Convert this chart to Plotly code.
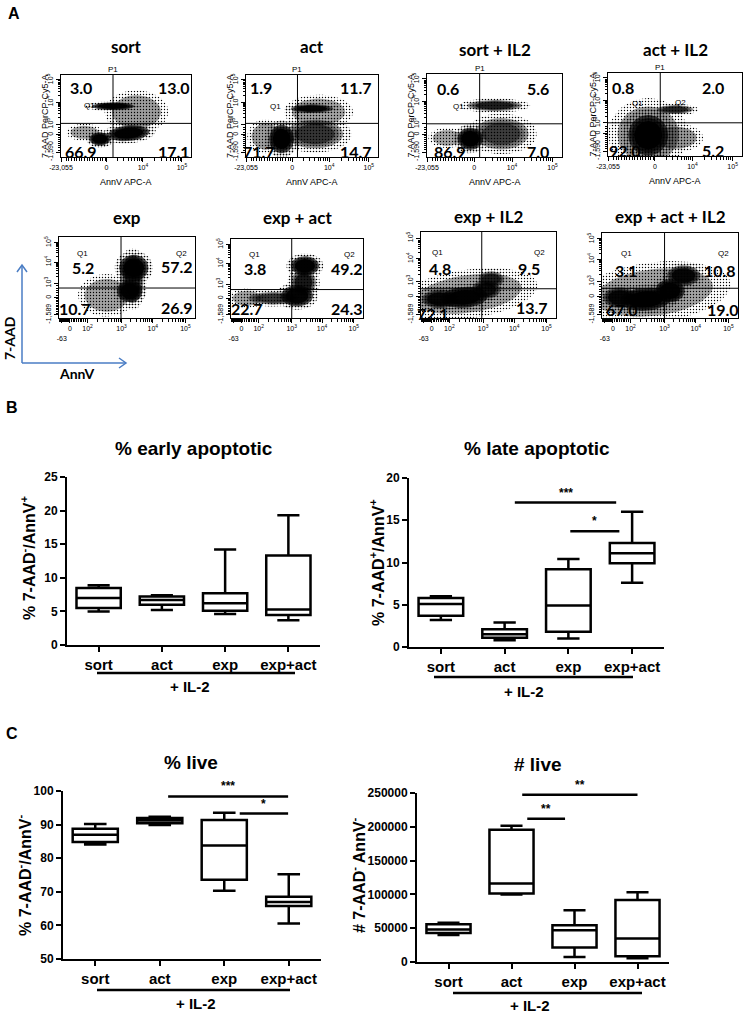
import numpy as np
import plotly.graph_objects as go

W, H = 745, 1013
def fx(p): return p / W
def fy(p): return 1 - p / H

# ---------------- Panel A data (flow cytometry quadrants) ----------------
flow_titles = ["sort", "act", "sort + IL2", "act + IL2",
               "exp", "exp + act", "exp + IL2", "exp + act + IL2"]
q1_pct = [3.0, 1.9, 0.6, 0.8, 5.2, 3.8, 4.8, 3.1]
q2_pct = [13.0, 11.7, 5.6, 2.0, 57.2, 49.2, 9.5, 10.8]
q3_pct = [66.9, 71.7, 86.9, 92.0, 10.7, 22.7, 72.1, 67.0]
q4_pct = [17.1, 14.7, 7.0, 5.2, 26.9, 24.3, 13.7, 19.0]
gate_x = [0.40, 0.39, 0.39, 0.39, 0.456, 0.46, 0.45, 0.46]
gate_y = [0.41, 0.41, 0.40, 0.40, 0.37, 0.36, 0.34, 0.35]

# event populations (display units 0-1): centre, half-width, half-height, tilt, density
pop_cx = [[0.30, 0.52, 0.40, 0.58, 0.18],
          [0.27, 0.50, 0.52, 0.15, 0.55],
          [0.32, 0.50, 0.55, 0.15],
          [0.30, 0.50, 0.50, 0.30],
          [0.55, 0.52, 0.54, 0.35],
          [0.56, 0.50, 0.55, 0.32, 0.12],
          [0.14, 0.32, 0.48, 0.52, 0.35],
          [0.13, 0.32, 0.50, 0.60, 0.38]]
pop_cy = [[0.22, 0.29, 0.62, 0.55, 0.30],
          [0.22, 0.59, 0.28, 0.25, 0.55],
          [0.22, 0.62, 0.28, 0.23],
          [0.25, 0.56, 0.22, 0.26],
          [0.62, 0.33, 0.48, 0.28],
          [0.66, 0.28, 0.45, 0.25, 0.25],
          [0.22, 0.24, 0.33, 0.45, 0.28],
          [0.24, 0.22, 0.32, 0.50, 0.30]]
pop_rx = [[0.06, 0.12, 0.12, 0.14, 0.08],
          [0.07, 0.12, 0.16, 0.08, 0.15],
          [0.07, 0.15, 0.15, 0.08],
          [0.11, 0.10, 0.12, 0.17],
          [0.08, 0.07, 0.06, 0.12],
          [0.08, 0.09, 0.07, 0.14, 0.08],
          [0.10, 0.13, 0.08, 0.07, 0.30],
          [0.09, 0.14, 0.08, 0.09, 0.33]]
pop_ry = [[0.06, 0.07, 0.035, 0.15, 0.06],
          [0.13, 0.04, 0.13, 0.12, 0.12],
          [0.10, 0.05, 0.14, 0.07],
          [0.18, 0.04, 0.10, 0.25],
          [0.12, 0.10, 0.22, 0.15],
          [0.09, 0.10, 0.12, 0.06, 0.07],
          [0.08, 0.09, 0.08, 0.07, 0.16],
          [0.09, 0.10, 0.10, 0.09, 0.20]]
pop_ang = [[0, 10, 0, 0, 0],
           [0, 0, 0, 0, 0],
           [0, 0, 0, 0],
           [0, 0, 0, 0],
           [0, 0, 0, 0],
           [0, 0, 0, 0, 0],
           [0, 10, 0, 0, 15],
           [0, 10, 0, 20, 15]]
pop_den = [[1.0, 0.95, 0.95, 0.3, 0.2],
           [1.0, 0.85, 0.5, 0.3, 0.25],
           [1.0, 0.65, 0.45, 0.2],
           [1.0, 0.6, 0.35, 0.3],
           [0.95, 0.9, 0.6, 0.25],
           [0.95, 0.9, 0.7, 0.5, 0.2],
           [0.85, 0.95, 0.7, 0.55, 0.25],
           [0.85, 1.0, 0.95, 0.85, 0.25]]

# ---------------- Panels B/C data (box plots) ----------------
cats = ["sort", "act", "exp", "exp+act"]
early_lo = [5.0, 5.2, 4.6, 3.7]
early_q1 = [5.5, 6.0, 5.1, 4.45]
early_md = [7.0, 6.7, 6.2, 5.3]
early_q3 = [8.5, 7.2, 7.7, 13.3]
early_hi = [8.9, 7.4, 14.2, 19.3]

late_lo = [3.2, 0.8, 1.0, 7.6]
late_q1 = [3.7, 1.1, 1.8, 9.9]
late_md = [5.1, 1.5, 4.9, 11.1]
late_q3 = [5.8, 2.1, 9.2, 12.3]
late_hi = [6.0, 2.9, 10.4, 16.0]

livep_lo = [84.1, 89.9, 70.3, 60.6]
livep_q1 = [84.8, 90.4, 73.6, 65.8]
livep_md = [87.0, 91.2, 83.8, 67.0]
livep_q3 = [88.8, 92.0, 91.4, 68.5]
livep_hi = [90.2, 92.3, 93.5, 75.2]

liven_lo = [40000, 99800, 7400, 5400]
liven_q1 = [43000, 101500, 21300, 8400]
liven_md = [48000, 116000, 47000, 34700]
liven_q3 = [56000, 195800, 54500, 91600]
liven_hi = [58000, 201700, 76700, 103000]

late_sig_x0 = [1.16, 2.03]
late_sig_x1 = [2.75, 2.80]
late_sig_y = [17.1, 13.7]
late_sig_txt = ["***", "*"]
livep_sig_x0 = [1.13, 2.24]
livep_sig_x1 = [2.99, 2.99]
livep_sig_y = [98.4, 93.3]
livep_sig_txt = ["***", "*"]
liven_sig_x0 = [1.17, 1.25]
liven_sig_x1 = [3.0, 1.85]
liven_sig_y = [247500, 212000]
liven_sig_txt = ["**", "**"]

# ---------------- layout geometry ----------------
flow_boxes = [(61, 191, 75, 157), (246, 378, 75, 157), (427, 562, 74, 157), (608, 742, 73, 156),
              (59, 195, 237, 318), (231, 363, 239, 318), (421, 556, 232, 318), (602, 738, 233, 318)]
title_py = [47, 47, 49, 49, 218, 218, 217, 217]
qpos = [
    [(0.15, 0.85), (0.87, 0.85), (0.15, 0.07), (0.87, 0.07)],
    [(0.11, 0.85), (0.83, 0.85), (0.10, 0.07), (0.83, 0.07)],
    [(0.155, 0.83), (0.82, 0.83), (0.17, 0.07), (0.82, 0.07)],
    [(0.11, 0.83), (0.78, 0.83), (0.13, 0.07), (0.78, 0.07)],
    [(0.18, 0.62), (0.87, 0.63), (0.12, 0.12), (0.87, 0.13)],
    [(0.18, 0.63), (0.88, 0.63), (0.12, 0.12), (0.88, 0.12)],
    [(0.14, 0.58), (0.80, 0.58), (0.09, 0.05), (0.82, 0.12)],
    [(0.18, 0.56), (0.87, 0.56), (0.15, 0.10), (0.89, 0.10)],
]
small_q = [
    [("Q1", 0.22, 0.63)], [("Q1", 0.22, 0.62)], [("Q1", 0.23, 0.61)],
    [("Q1", 0.22, 0.63), ("Q2", 0.54, 0.64)],
    [("Q1", 0.17, 0.80), ("Q2", 0.90, 0.80)], [("Q1", 0.18, 0.80), ("Q2", 0.90, 0.80)],
    [("Q1", 0.12, 0.76), ("Q2", 0.88, 0.76)], [("Q1", 0.18, 0.76), ("Q2", 0.89, 0.76)],
]

def logs(a, b):
    return [a + (b - a) * np.log10(k) for k in range(2, 10)]

r1x_major = [0.0, 0.35, 0.63, 0.93]
r1x_text = ["-23,055", "0", "10<sup>4</sup>", "10<sup>5</sup>"]
r1x_minor = list(np.arange(0.04, 0.35, 0.02)) + logs(0.35, 0.63) + logs(0.63, 0.93)
r1y_major = [0.06, 0.27, 0.40, 0.67, 0.94]
r1y_text = ["-1,590", "0", "10<sup>3</sup>", "10<sup>4</sup>", "10<sup>5</sup>"]
r1y_minor = list(np.arange(0.06, 0.27, 0.025)) + [0.30, 0.33, 0.36] + logs(0.40, 0.67) + logs(0.67, 0.94)
r2x_major = [0.02, 0.08, 0.21, 0.46, 0.69, 0.93]
r2x_text = ["<br>-63", "0", "10<sup>2</sup>", "10<sup>3</sup>", "10<sup>4</sup>", "10<sup>5</sup>"]
r2x_minor = list(np.arange(0.0, 0.08, 0.008)) + list(np.arange(0.09, 0.21, 0.013)) + \
    logs(0.21, 0.46) + logs(0.46, 0.69) + logs(0.69, 0.93)
r2y_major = [0.04, 0.25, 0.43, 0.69, 0.93]
r2y_text = ["-1,589", "0", "10<sup>3</sup>", "10<sup>4</sup>", "10<sup>5</sup>"]
r2y_minor = list(np.arange(0.04, 0.25, 0.02)) + list(np.arange(0.28, 0.43, 0.03)) + \
    logs(0.43, 0.69) + logs(0.69, 0.93)

fig = go.Figure()
layout = dict(template="none", width=W, height=H, margin=dict(l=0, r=0, t=0, b=0, pad=0),
              paper_bgcolor="white", plot_bgcolor="white", showlegend=False)
shapes, annotations = [], []

def note(x, y, text, size, family, xref="paper", yref="paper", **kw):
    d = dict(x=x, y=y, xref=xref, yref=yref, text=text, showarrow=False,
             xanchor="center", yanchor="middle",
             font=dict(family=family, size=size, color="black"))
    d.update(kw)
    annotations.append(d)

def axname(n, a):
    return a if n == 1 else f"{a}{n}"

def ellipse(cx, cy, rx, ry, ang, s):
    t = np.linspace(0, 2 * np.pi, 49)
    a = np.deg2rad(ang)
    ex, ey = rx * s * np.cos(t), ry * s * np.sin(t)
    return cx + ex * np.cos(a) - ey * np.sin(a), cy + ex * np.sin(a) + ey * np.cos(a)

SANS = "Liberation Sans"
TFONT = "Lato"

def blob(xr, yr, ex, ey, **kw):
    fig.add_trace(go.Scatter(x=ex, y=ey, mode="lines", line=dict(width=0), fill="toself",
                             hoverinfo="skip", xaxis=xr, yaxis=yr, **kw))

for i in range(8):
    n = i + 1
    x0, x1, yt, yb = flow_boxes[i]
    row1 = i < 4
    xr, yr = axname(n, "x"), axname(n, "y")
    ax = dict(domain=[fx(x0), fx(x1)], range=[0, 1], anchor=yr, showline=True, mirror=True,
              linecolor="black", linewidth=1, showgrid=False, zeroline=False, ticks="outside",
              ticklen=4, tickcolor="black", tickmode="array", automargin=False,
              tickvals=r1x_major if row1 else r2x_major, ticktext=r1x_text if row1 else r2x_text,
              tickfont=dict(family=SANS, size=7, color="black"), tickangle=0,
              minor=dict(tickmode="array", tickvals=r1x_minor if row1 else r2x_minor,
                         ticklen=2.5, ticks="outside", tickcolor="black"))
    ay = dict(domain=[fy(yb), fy(yt)], range=[0, 1], anchor=xr, showline=True, mirror=True,
              linecolor="black", linewidth=1, showgrid=False, zeroline=False, ticks="outside",
              ticklen=4, tickcolor="black", tickmode="array", automargin=False,
              tickvals=r1y_major if row1 else r2y_major, ticktext=r1y_text if row1 else r2y_text,
              tickfont=dict(family=SANS, size=7, color="black"), tickangle=-90,
              minor=dict(tickmode="array", tickvals=r1y_minor if row1 else r2y_minor,
                         ticklen=2.5, ticks="outside", tickcolor="black"))
    layout[axname(n, "xaxis")] = ax
    layout[axname(n, "yaxis")] = ay

    # populations of events
    for cx, cy, rx, ry, ang, den in zip(pop_cx[i], pop_cy[i], pop_rx[i], pop_ry[i], pop_ang[i], pop_den[i]):
        ex, ey = ellipse(cx, cy, rx, ry, ang, 1.75)
        blob(xr, yr, ex, ey, fillcolor="rgba(0,0,0,0)",
             fillpattern=dict(shape=".", fgcolor="black", bgcolor="rgba(0,0,0,0)",
                              size=3, solidity=0.12 + 0.15 * den))
        ex, ey = ellipse(cx, cy, rx, ry, ang, 1.35)
        blob(xr, yr, ex, ey, fillcolor="rgba(0,0,0,0)",
             fillpattern=dict(shape=".", fgcolor="black", bgcolor="rgba(0,0,0,0)",
                              size=2, solidity=0.3 + 0.35 * den))
        if den >= 0.45:
            ex, ey = ellipse(cx, cy, rx, ry, ang, 1.15)
            blob(xr, yr, ex, ey, fillcolor=f"rgba(0,0,0,{0.6 * den:.2f})")
            ex, ey = ellipse(cx, cy, rx, ry, ang, 0.95)
            blob(xr, yr, ex, ey, fillcolor=f"rgba(0,0,0,{den:.2f})")

    # quadrant gates
    shapes.append(dict(type="line", xref=xr, yref=yr, x0=gate_x[i], x1=gate_x[i], y0=0, y1=1,
                       line=dict(color="black", width=1)))
    shapes.append(dict(type="line", xref=xr, yref=yr, x0=0, x1=1, y0=gate_y[i], y1=gate_y[i],
                       line=dict(color="black", width=1)))

    for (qx, qy), val in zip(qpos[i], [q1_pct[i], q2_pct[i], q3_pct[i], q4_pct[i]]):
        note(qx, qy, f"<b>{val:.1f}</b>", 16, TFONT, xref=xr, yref=yr)
    for lab, qx, qy in small_q[i]:
        note(qx, qy, lab, 8, SANS, xref=xr, yref=yr)

    note(fx((x0 + x1) / 2), fy(title_py[i]), f"<b>{flow_titles[i]}</b>", 17, TFONT)
    if row1:
        gx = x0 + gate_x[i] * (x1 - x0)
        note(fx(gx), fy(yt - 5), "P1", 8, SANS)
        note(fx((x0 + x1) / 2), fy(yb + 25), "AnnV APC-A", 9, SANS)
        note(fx(x0 - 16), fy((yt + yb) / 2), "7-AAD PerCP-Cy5-A", 9, SANS, textangle=-90)

# blue axis arrows
BLUE = "#4a7dc4"
shapes += [
    dict(type="line", xref="paper", yref="paper", x0=fx(22), y0=fy(363), x1=fx(22), y1=fy(265),
         line=dict(color=BLUE, width=1.5)),
    dict(type="line", xref="paper", yref="paper", x0=fx(22), y0=fy(363), x1=fx(126), y1=fy(363),
         line=dict(color=BLUE, width=1.5)),
    dict(type="path", xref="paper", yref="paper",
         path=f"M {fx(17)} {fy(272)} L {fx(22)} {fy(265)} L {fx(27)} {fy(272)}",
         line=dict(color=BLUE, width=1.5)),
    dict(type="path", xref="paper", yref="paper",
         path=f"M {fx(119)} {fy(358)} L {fx(126)} {fy(363)} L {fx(119)} {fy(368)}",
         line=dict(color=BLUE, width=1.5)),
]
note(fx(9), fy(338), "<b>7-AAD</b>", 14, TFONT, textangle=-90)
note(fx(77), fy(374), "<b>AnnV</b>", 14, TFONT)

# panel letters
for lab, (lx, ly) in zip(["A", "B", "C"], [(14, 14), (12, 408), (12, 733)]):
    note(fx(lx), fy(ly), f"<b>{lab}</b>", 16, SANS)

# ---------------- box plots ----------------
box_specs = [
    dict(n=9, dom=(67, 320, 645, 477), yr=[0, 25], yt=[0, 5, 10, 15, 20, 25],
         yl=["0", "5", "10", "15", "20", "25"],
         data=(early_lo, early_q1, early_md, early_q3, early_hi), sig=None,
         title="% early apoptotic", tpos=(194, 448),
         ytitle="% 7-AAD<sup>-</sup>/AnnV<sup>+</sup>", ytpos=(28, 558),
         il2=(97, 295, 673, 190, 686)),
    dict(n=10, dom=(409, 664, 647, 478), yr=[0, 20], yt=[0, 5, 10, 15, 20],
         yl=["0", "5", "10", "15", "20"],
         data=(late_lo, late_q1, late_md, late_q3, late_hi),
         sig=(late_sig_x0, late_sig_x1, late_sig_y, late_sig_txt),
         title="% late apoptotic", tpos=(537, 448),
         ytitle="% 7-AAD<sup>+</sup>/AnnV<sup>+</sup>", ytpos=(377, 563),
         il2=(434, 633, 677, 524, 691)),
    dict(n=11, dom=(63, 321, 959, 791), yr=[50, 100], yt=[50, 60, 70, 80, 90, 100],
         yl=["50", "60", "70", "80", "90", "100"],
         data=(livep_lo, livep_q1, livep_md, livep_q3, livep_hi),
         sig=(livep_sig_x0, livep_sig_x1, livep_sig_y, livep_sig_txt),
         title="% live", tpos=(191, 762),
         ytitle="% 7-AAD<sup>-</sup>/AnnV<sup>-</sup>", ytpos=(24, 875),
         il2=(97, 290, 990, 196, 1003)),
    dict(n=12, dom=(417, 669, 962, 793), yr=[0, 250000],
         yt=[0, 50000, 100000, 150000, 200000, 250000],
         yl=["0", "50000", "100000", "150000", "200000", "250000"],
         data=(liven_lo, liven_q1, liven_md, liven_q3, liven_hi),
         sig=(liven_sig_x0, liven_sig_x1, liven_sig_y, liven_sig_txt),
         title="# live", tpos=(538, 764),
         ytitle="# 7-AAD<sup>-</sup> AnnV<sup>-</sup>", ytpos=(358, 875),
         il2=(453, 642, 993, 530, 1005)),
]

for sp in box_specs:
    n = sp["n"]
    xr, yr = f"x{n}", f"y{n}"
    xa, xb, yb0, ya0 = sp["dom"]
    layout[f"xaxis{n}"] = dict(domain=[fx(xa), fx(xb)], range=[-0.5, 3.5], anchor=yr,
                               showline=True, linecolor="black", linewidth=2, showgrid=False,
                               zeroline=False, ticks="outside", ticklen=5, tickwidth=2,
                               tickcolor="black", tickmode="array", tickvals=[0, 1, 2, 3],
                               ticktext=cats, automargin=False,
                               tickfont=dict(family=SANS, size=15, color="black", weight="bold"))
    layout[f"yaxis{n}"] = dict(domain=[fy(yb0), fy(ya0)], range=sp["yr"], anchor=xr,
                               showline=True, linecolor="black", linewidth=2, showgrid=False,
                               zeroline=False, ticks="outside", ticklen=5, tickwidth=2,
                               tickcolor="black", tickmode="array", tickvals=sp["yt"],
                               ticktext=sp["yl"], automargin=False,
                               tickfont=dict(family=SANS, size=12, color="black", weight="bold"))
    lo, q1, md, q3, hi = sp["data"]
    fig.add_trace(go.Box(x=[0, 1, 2, 3], lowerfence=lo, q1=q1, median=md, q3=q3, upperfence=hi,
                         width=0.7, whiskerwidth=0.5, boxpoints=False,
                         line=dict(color="black", width=2.5), fillcolor="white",
                         hoverinfo="skip", xaxis=xr, yaxis=yr))
    if sp["sig"]:
        for s0, s1, sy, st in zip(*sp["sig"]):
            shapes.append(dict(type="line", xref=xr, yref=yr, x0=s0, x1=s1, y0=sy, y1=sy,
                               line=dict(color="black", width=2.5)))
            note((s0 + s1) / 2, sy, f"<b>{st}</b>", 12, SANS, xref=xr, yref=yr,
                 yanchor="bottom", yshift=1)
    note(fx(sp["tpos"][0]), fy(sp["tpos"][1]), f"<b>{sp['title']}</b>", 19, SANS)
    note(fx(sp["ytpos"][0]), fy(sp["ytpos"][1]), f"<b>{sp['ytitle']}</b>", 16, SANS, textangle=-90)
    lx0, lx1, ly, tx, ty = sp["il2"]
    shapes.append(dict(type="line", xref="paper", yref="paper", x0=fx(lx0), x1=fx(lx1),
                       y0=fy(ly), y1=fy(ly), line=dict(color="black", width=2.5)))
    note(fx(tx), fy(ty), "<b>+ IL-2</b>", 15, SANS)

layout["shapes"] = shapes
layout["annotations"] = annotations
fig.update_layout(**layout)
fig.write_html("out.html", config={"displayModeBar": False},
               post_script="document.body.style.margin='0';document.body.style.overflow='hidden';")
